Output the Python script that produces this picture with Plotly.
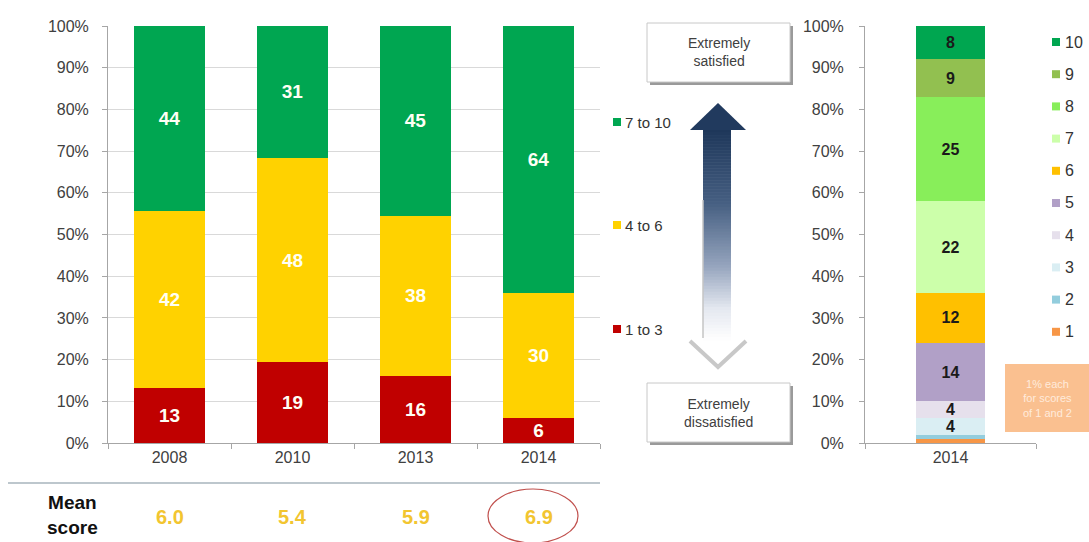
import numpy as np
import plotly.graph_objects as go

# ---- data -------------------------------------------------------------
years = ["2008", "2010", "2013", "2014"]
low_1_3 = [13, 19, 16, 6]
mid_4_6 = [42, 48, 38, 30]
high_7_10 = [44, 31, 45, 64]
mean_scores = ["6.0", "5.4", "5.9", "6.9"]

detail_year = ["2014"]
score_levels = ["1", "2", "3", "4", "5", "6", "7", "8", "9", "10"]
score_share = [1, 1, 4, 4, 14, 12, 22, 25, 9, 8]
score_labelled = [False, False, True, True, True, True, True, True, True, True]

group_names = ["1 to 3", "4 to 6", "7 to 10"]
group_colors = ["#C00000", "#FFD200", "#00A651"]
score_colors = ["#F79646", "#93CDDD", "#DAEEF3", "#E6E0EC", "#B1A0C7",
                "#FFC000", "#CCFFAA", "#88EE5A", "#92C050", "#00A650"]

# ---- page geometry (pixels -> paper) ----------------------------------
W, H = 1089, 542
FONT = "Liberation Sans, Arial, sans-serif"
TXT = "#404040"


def fx(px):
    return px / W


def fy(py):
    return 1 - py / H


fig = go.Figure()

# left chart: 100% stacked groups
for name, vals, col in zip(group_names, [low_1_3, mid_4_6, high_7_10], group_colors):
    fig.add_trace(go.Bar(
        x=years, y=vals, name=name, marker=dict(color=col, line=dict(width=0)),
        width=0.57, text=[str(v) for v in vals], textposition="inside",
        insidetextanchor="middle", constraintext="none", textangle=0,
        textfont=dict(family=FONT, size=19, color="#FFFFF4", weight="bold"),
        showlegend=False, xaxis="x", yaxis="y", hoverinfo="skip",
    ))

# right chart: 2014 score distribution
for lvl, val, col, lab in zip(score_levels, score_share, score_colors, score_labelled):
    fig.add_trace(go.Bar(
        x=detail_year, y=[val], name=lvl, marker=dict(color=col, line=dict(width=0)),
        width=0.4, text=[str(val) if lab else ""], textposition="inside",
        insidetextanchor="middle", constraintext="none", textangle=0,
        textfont=dict(family=FONT, size=16, color="#1a1a1a", weight="bold"),
        showlegend=False, xaxis="x2", yaxis="y2", hoverinfo="skip",
    ))

axis_common = dict(
    showline=True, linecolor="#a6a6a6", linewidth=1,
    ticks="outside", ticklen=5, tickcolor="#a6a6a6",
    tickfont=dict(family=FONT, size=16, color=TXT),
    zeroline=False, fixedrange=True, automargin=False,
)

fig.update_layout(
    width=W, height=H, margin=dict(l=0, r=0, t=0, b=0),
    paper_bgcolor="white", plot_bgcolor="white",
    barmode="stack", barnorm="percent",
    xaxis=dict(domain=[fx(108), fx(600)], type="category", tickson="boundaries",
               range=[-0.5, len(years) - 0.5], showgrid=False, anchor="y",
               tickangle=0, **axis_common),
    yaxis=dict(domain=[fy(443), fy(26)], range=[0, 100], dtick=10, ticksuffix="%",
               showgrid=True, gridcolor="#d9d9d9", anchor="x",
               ticklabelstandoff=10, **axis_common),
    xaxis2=dict(domain=[fx(865), fx(1036)], type="category", tickson="boundaries",
                range=[-0.5, 0.5], showgrid=False, anchor="y2", tickangle=0,
                **axis_common),
    yaxis2=dict(domain=[fy(443), fy(26)], range=[0, 100], dtick=10, ticksuffix="%",
                showgrid=False, anchor="x2", ticklabelstandoff=12, **axis_common),
)

shapes = []
annotations = []

# legend for the grouped chart
for name, col, yc in zip(group_names[::-1], group_colors[::-1], [122, 225, 329]):
    shapes.append(dict(type="rect", xref="paper", yref="paper",
                       x0=fx(613), x1=fx(621), y0=fy(yc + 4), y1=fy(yc - 4),
                       fillcolor=col, line=dict(width=0)))
    annotations.append(dict(text=name, xref="paper", yref="paper", x=fx(623), y=fy(yc),
                            xanchor="left", yanchor="middle", showarrow=False,
                            font=dict(family=FONT, size=15, color="#333333")))

# legend for the score chart
for i, (lvl, col) in enumerate(zip(score_levels[::-1], score_colors[::-1])):
    yc = 42 + i * 32.2
    shapes.append(dict(type="rect", xref="paper", yref="paper",
                       x0=fx(1052), x1=fx(1060), y0=fy(yc + 4), y1=fy(yc - 4),
                       fillcolor=col, line=dict(width=0)))
    annotations.append(dict(text=lvl, xref="paper", yref="paper", x=fx(1063), y=fy(yc),
                            xanchor="left", yanchor="middle", showarrow=False,
                            font=dict(family=FONT, size=16, color="#333333")))

# separator and mean score row
shapes.append(dict(type="line", xref="paper", yref="paper",
                   x0=fx(8), x1=fx(600), y0=fy(483), y1=fy(483),
                   line=dict(color="#a7b4bc", width=1.5)))
annotations.append(dict(text="<b>Mean<br>score</b>", xref="paper", yref="paper",
                        x=fx(72), y=fy(515), xanchor="center", yanchor="middle",
                        showarrow=False, align="center",
                        font=dict(family=FONT, size=19, color="#111111")))
for i, m in enumerate(mean_scores):
    annotations.append(dict(text=f"<b>{m}</b>", xref="x", yref="paper", x=i, y=fy(517),
                            xanchor="center", yanchor="middle", showarrow=False,
                            font=dict(family=FONT, size=20, color="#F2C530")))
shapes.append(dict(type="circle", xref="paper", yref="paper",
                   x0=fx(488), x1=fx(578), y0=fy(543), y1=fy(489),
                   line=dict(color="#C0504D", width=1.2)))

# satisfaction scale boxes
for (top, bot, label) in [(23, 82, "Extremely<br>satisfied"),
                          (383, 442, "Extremely<br>dissatisfied")]:
    shapes.append(dict(type="rect", xref="paper", yref="paper",
                       x0=fx(650), x1=fx(793), y0=fy(bot + 3), y1=fy(top + 3),
                       fillcolor="#9a9a9a", line=dict(width=0)))
    shapes.append(dict(type="rect", xref="paper", yref="paper",
                       x0=fx(647), x1=fx(790), y0=fy(bot), y1=fy(top),
                       fillcolor="white", line=dict(color="#c8c8c8", width=1)))
    annotations.append(dict(text=label, xref="paper", yref="paper",
                            x=fx(718.5), y=fy((top + bot) / 2), xanchor="center",
                            yanchor="middle", showarrow=False, align="center",
                            font=dict(family=FONT, size=14, color=TXT)))

# double-headed arrow with fading shaft
stops = np.array([0.0, 0.35, 0.65, 0.85, 1.0])
cols = np.array([[30, 55, 90], [70, 95, 130], [150, 165, 190],
                 [228, 232, 240], [255, 255, 255]])
shaft_top, shaft_bot = 129, 340
n = 70
edges = np.linspace(shaft_top, shaft_bot, n + 1)
for k in range(n):
    t = (k + 0.5) / n
    c = [int(np.interp(t, stops, cols[:, j])) for j in range(3)]
    shapes.append(dict(type="rect", xref="paper", yref="paper",
                       x0=fx(703), x1=fx(731), y0=fy(edges[k + 1] + 0.6), y1=fy(edges[k]),
                       fillcolor=f"rgb({c[0]},{c[1]},{c[2]})", line=dict(width=0)))
shapes.append(dict(type="line", xref="paper", yref="paper",
                   x0=fx(703), x1=fx(703), y0=fy(338), y1=fy(200),
                   line=dict(color="#c4c4c4", width=1.5)))
shapes.append(dict(type="path", xref="paper", yref="paper",
                   path=f"M {fx(690)},{fy(130)} L {fx(718)},{fy(103)} L {fx(746)},{fy(130)} Z",
                   fillcolor="rgb(33,58,94)", line=dict(width=0)))
shapes.append(dict(type="path", xref="paper", yref="paper",
                   path=f"M {fx(690)},{fy(341)} L {fx(718)},{fy(367)} L {fx(746)},{fy(341)}",
                   line=dict(color="#c8c8c8", width=4)))

# note box for the smallest scores
shapes.append(dict(type="rect", xref="paper", yref="paper",
                   x0=fx(1005), x1=fx(1089), y0=fy(432), y1=fy(364),
                   fillcolor="#FAC090", line=dict(width=0)))
annotations.append(dict(text="1% each<br>for scores<br>of 1 and 2", xref="paper", yref="paper",
                        x=fx(1047), y=fy(398), xanchor="center", yanchor="middle",
                        showarrow=False, align="center",
                        font=dict(family=FONT, size=11, color="#FFEBDC")))

fig.update_layout(shapes=shapes, annotations=annotations)
fig.write_html("out.html")
